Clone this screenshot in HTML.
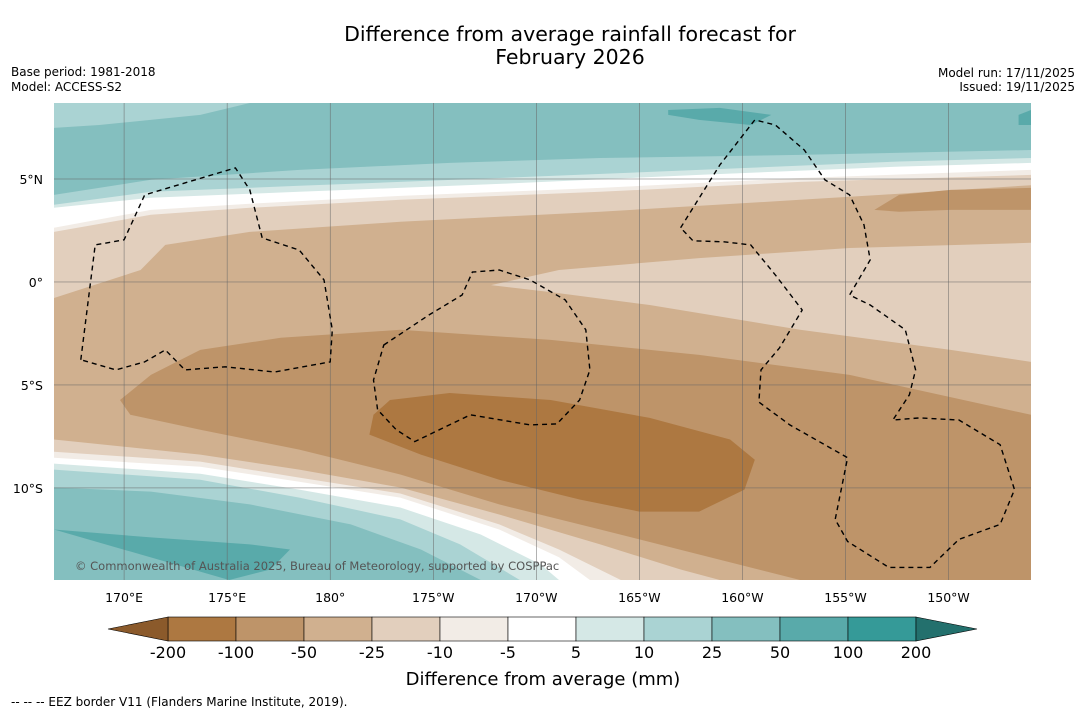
<!DOCTYPE html>
<html><head><meta charset="utf-8">
<style>
body{margin:0;background:#fff;width:1085px;height:713px;overflow:hidden;font-family:"DejaVu Sans","Liberation Sans",sans-serif;}
svg{display:block}
</style></head>
<body>
<svg id="chart" width="1085" height="713" xmlns="http://www.w3.org/2000/svg" font-family="DejaVu Sans, Liberation Sans, sans-serif">
<text x="570" y="41" text-anchor="middle" font-size="20.5" fill="#000">Difference from average rainfall forecast for</text>
<text x="570" y="64" text-anchor="middle" font-size="20.5" fill="#000">February 2026</text>
<text x="11" y="76" font-size="12">Base period: 1981-2018</text>
<text x="11" y="91" font-size="12">Model: ACCESS-S2</text>
<text x="1075" y="77" font-size="12" text-anchor="end">Model run: 17/11/2025</text>
<text x="1075" y="91" font-size="12" text-anchor="end">Issued: 19/11/2025</text>
<defs><clipPath id="mapclip"><rect x="54" y="103" width="977" height="477"/></clipPath></defs>
<g id="map" clip-path="url(#mapclip)"></g>
<g id="axes"></g>
<g id="cbar"></g>
<text x="543" y="685" text-anchor="middle" font-size="18">Difference from average (mm)</text>
<text x="11" y="706" font-size="12">--  --  -- EEZ border V11 (Flanders Marine Institute, 2019).</text>
</svg>
<script>
const NS="http://www.w3.org/2000/svg";
// map extent
const lonMin=166.6, lonMax=214.0, latMax=8.69, latMin=-14.47;
const lonTicks=[170,175,180,185,190,195,200,205,210];
const lonTickLabels=["170°E","175°E","180°","175°W","170°W","165°W","160°W","155°W","150°W"];
const latTicks=[5,0,-5,-10];
const latTickLabels=["5°N","0°","5°S","10°S"];
const cbarLabels=["-200","-100","-50","-25","-10","-5","5","10","25","50","100","200"];
const cbarColors=["#ad7841","#be9469","#d0b08f","#e2cfbd","#f2ece6","#ffffff","#d5e8e6","#aad3d3","#84bfbf","#59aaaa","#359a98"];
const lowColor="#8b5a2b", highColor="#23706d";
// contour bands (lon, lat)
const topBeige25=[[166.6,-0.78],[170.8,0.58],[172.0,1.8],[176.1,2.43],[183.4,2.92],[193.1,3.41],[202.8,3.99],[206.7,4.23],[214,4.7]];
const topTen=[[166.6,2.43],[171.3,3.26],[176.1,3.6],[183.4,3.99],[193.1,4.38],[202.8,4.86],[214,5.2]];
const topWhite=[[166.6,2.63],[171.3,3.5],[176.1,3.8],[183.4,4.18],[193.1,4.57],[202.8,5.05],[214,5.44]];
const topFive=[[166.6,3.6],[171.3,4.09],[178.5,4.38],[188.2,4.76],[197.9,5.2],[207.6,5.6],[214,5.78]];
const topTen25=[[166.6,3.75],[171.3,4.38],[178.5,4.67],[188.2,5.05],[197.9,5.44],[207.6,5.85],[214,6.02]];
const topTwentyFive=[[166.6,4.23],[171.3,4.96],[178.5,5.44],[185.8,5.78],[193.1,6.02],[202.8,6.17],[214,6.41]];
const topLeftLight=[[166.6,8.69],[176.1,8.69],[173.7,8.11],[168.8,7.62],[166.6,7.48]];
const patch50a=[[196.4,8.35],[198.9,8.45],[201.4,8.11],[200.4,7.62],[197.9,7.87],[196.4,8.11]];
const patch50b=[[213.4,8.11],[214,8.35],[214,7.62],[213.4,7.62]];
const topRight100=[[206.4,3.5],[207.6,4.23],[210.1,4.47],[214,4.57],[214,3.5],[210.1,3.5],[207.6,3.41]];
const midBeige=[[187.8,-0.15],[191.1,0.58],[197.9,1.16],[205.2,1.65],[214,1.9],[214,-3.88],[210.1,-3.3],[202.8,-2.32],[195.5,-1.12],[190.7,-0.49]];
const low100=[[169.8,-5.73],[171.3,-4.51],[173.7,-3.3],[177.6,-2.71],[183.4,-2.32],[190.7,-2.81],[197.9,-3.54],[205.2,-4.51],[214,-6.45],[214,-14.47],[202.8,-14.47],[197.9,-13.23],[193.1,-12.02],[188.2,-10.8],[183.4,-9.35],[178.5,-8.14],[173.7,-7.17],[170.3,-6.45]];
const low200=[[182.1,-6.45],[182.9,-5.73],[185.8,-5.39],[190.7,-5.73],[195.5,-6.6],[199.4,-7.65],[200.6,-8.63],[200.1,-10.08],[197.9,-11.15],[195.0,-11.15],[192.1,-10.56],[188.2,-9.6],[184.4,-8.38],[181.9,-7.41]];
const botBeige25=[[166.6,-7.65],[173.7,-8.38],[178.5,-9.11],[183.4,-9.98],[188.2,-11.29],[193.1,-12.74],[197.0,-13.96],[198.9,-14.47]];
const botTen=[[166.6,-8.24],[173.7,-8.72],[178.5,-9.5],[183.4,-10.27],[188.2,-11.77],[191.1,-12.99],[194.1,-14.47]];
const botWhite=[[166.6,-8.53],[173.7,-8.97],[178.5,-9.7],[183.4,-10.47],[188.2,-12.02],[191.1,-13.37],[192.6,-14.47]];
const botFive=[[166.6,-8.82],[173.7,-9.31],[178.5,-10.08],[183.4,-10.95],[187.3,-12.26],[190.2,-13.71],[191.1,-14.47]];
const botTen25=[[166.6,-9.11],[173.7,-9.6],[178.5,-10.47],[183.4,-11.53],[186.3,-12.74],[189.2,-14.47]];
const botTwentyFive=[[166.6,-9.98],[171.3,-10.18],[176.1,-10.8],[181.0,-11.77],[184.4,-12.99],[187.3,-14.47]];
const botFifty=[[166.6,-12.02],[171.3,-12.4],[176.1,-12.74],[178.05,-12.99],[177.1,-13.96],[175.1,-14.47]];
// EEZ borders
const eezWest=[[167.9,-3.78],[168.6,1.8],[170.0,2.05],[171.0,4.23],[175.4,5.54],[176.1,4.47],[176.7,2.14],[178.5,1.55],[179.7,0.1],[180.1,-2.32],[180.0,-3.88],[177.3,-4.37],[174.9,-4.12],[172.95,-4.27],[172.0,-3.3],[171.0,-3.88],[169.6,-4.27]];
const eezMid=[[182.6,-3.06],[184.8,-1.6],[186.4,-0.63],[186.9,0.48],[188.2,0.58],[189.7,0.1],[191.4,-0.87],[192.4,-2.32],[192.6,-4.27],[192.1,-5.73],[191.0,-6.89],[189.7,-6.94],[186.8,-6.45],[184.1,-7.75],[183.2,-7.17],[182.3,-6.2],[182.1,-4.76]];
const eezEast=[[197.0,2.63],[198.9,5.68],[200.6,7.87],[201.6,7.62],[203.0,6.41],[204.0,4.96],[205.2,4.23],[205.9,2.77],[206.2,1.07],[205.2,-0.63],[206.2,-1.12],[207.9,-2.32],[208.4,-4.27],[208.1,-5.48],[207.3,-6.7],[208.6,-6.6],[210.5,-6.7],[212.5,-7.9],[213.2,-10.08],[212.5,-11.77],[210.5,-12.5],[209.1,-13.86],[207.1,-13.86],[205.1,-12.6],[204.5,-11.53],[205.1,-8.53],[202.3,-6.94],[200.8,-5.83],[200.9,-4.27],[201.8,-3.2],[202.9,-1.36],[201.6,0.34],[200.4,1.8],[199.1,1.95],[197.6,2.0]];

const X0=54,X1=1031,Y0=103,Y1=580;
const xS=l=>X0+(l-lonMin)/(lonMax-lonMin)*(X1-X0);
const yS=l=>Y0+(latMax-l)/(latMax-latMin)*(Y1-Y0);
const map=document.getElementById('map'),axes=document.getElementById('axes'),cbar=document.getElementById('cbar');
function mk(tag,attrs,parent){const e=document.createElementNS(NS,tag);for(const k in attrs)e.setAttribute(k,attrs[k]);parent.appendChild(e);return e;}
const pts=a=>a.map(p=>xS(p[0]).toFixed(1)+","+yS(p[1]).toFixed(1)).join(" ");
function poly(a,fill,name){const e=mk('polygon',{points:pts(a),fill:fill},map);

}
const topClose=a=>a.concat([[lonMax,latMax],[lonMin,latMax]]);
const botClose=a=>a.concat([[a[a.length-1][0],latMin],[lonMin,latMin]]);
const bg=mk('rect',{x:X0,y:Y0,width:X1-X0,height:Y1-Y0,fill:cbarColors[2]},map);


poly(topClose(topBeige25),cbarColors[3],'top-band-25');
poly(topClose(topTen),cbarColors[4],'top-band-10');
poly(topClose(topWhite),cbarColors[5],'top-band-neutral');
poly(topClose(topFive),cbarColors[6],'top-band-5');
poly(topClose(topTen25),cbarColors[7],'top-band-10-25');
poly(topClose(topTwentyFive),cbarColors[8],'top-band-25-50');
poly(topLeftLight,cbarColors[7],'top-left-light-patch');
poly(patch50a,cbarColors[9],'patch-50-100');
poly(patch50b,cbarColors[9],'patch-50-100-edge');
poly(topRight100,cbarColors[1],'top-right-dry-band');
poly(midBeige,cbarColors[3],'mid-beige-band');
poly(low100,cbarColors[1],'dry-band-100');
poly(low200,cbarColors[0],'dry-core-200');
poly(botClose(botBeige25),cbarColors[3],'bottom-band-25');
poly(botClose(botTen),cbarColors[4],'bottom-band-10');
poly(botClose(botWhite),cbarColors[5],'bottom-band-neutral');
poly(botClose(botFive),cbarColors[6],'bottom-band-5');
poly(botClose(botTen25),cbarColors[7],'bottom-band-10-25');
poly(botClose(botTwentyFive),cbarColors[8],'bottom-band-25-50');
poly(botFifty,cbarColors[9],'bottom-band-50-100');
// gridlines
lonTicks.forEach((l,i)=>{const g=mk('line',{x1:xS(l),x2:xS(l),y1:Y0,y2:Y1,stroke:'#666','stroke-width':0.5},map);


const t=mk('text',{x:xS(l),y:602,'text-anchor':'middle','font-size':12.5},axes);t.textContent=lonTickLabels[i];

});
latTicks.forEach((l,i)=>{const g=mk('line',{x1:X0,x2:X1,y1:yS(l),y2:yS(l),stroke:'#666','stroke-width':0.5},map);


const t=mk('text',{x:43,y:yS(l)+5,'text-anchor':'end','font-size':12.5},axes);t.textContent=latTickLabels[i];

});
// EEZ
[[eezWest,'eez-border-west'],[eezMid,'eez-border-central'],[eezEast,'eez-border-east']].forEach(([a,n])=>{
const e=mk('polygon',{points:pts(a),fill:'none',stroke:'#000','stroke-width':1.4,'stroke-dasharray':'5,4'},map);

});
const cr=mk('text',{x:75,y:570,'font-size':11.5,fill:'#555'},map);cr.textContent="© Commonwealth of Australia 2025, Bureau of Meteorology, supported by COSPPac";


// colorbar
const cx0=168,cw=68,cy=617,ch=24;
cbarColors.forEach((c,i)=>{const r=mk('rect',{x:cx0+i*cw,y:cy,width:cw,height:ch,fill:c,stroke:'#000','stroke-width':0.6},cbar);

});
const lt=mk('polygon',{points:`${cx0},${cy} 108,${cy+ch/2} ${cx0},${cy+ch}`,fill:lowColor,stroke:'#000','stroke-width':0.6},cbar);


const ce=cx0+cbarColors.length*cw;
const rt=mk('polygon',{points:`${ce},${cy} 977,${cy+ch/2} ${ce},${cy+ch}`,fill:highColor,stroke:'#000','stroke-width':0.6},cbar);


cbarLabels.forEach((s,i)=>{const t=mk('text',{x:cx0+i*cw,y:658,'text-anchor':'middle','font-size':16},cbar);t.textContent=s;

});
</script>
</body></html>
